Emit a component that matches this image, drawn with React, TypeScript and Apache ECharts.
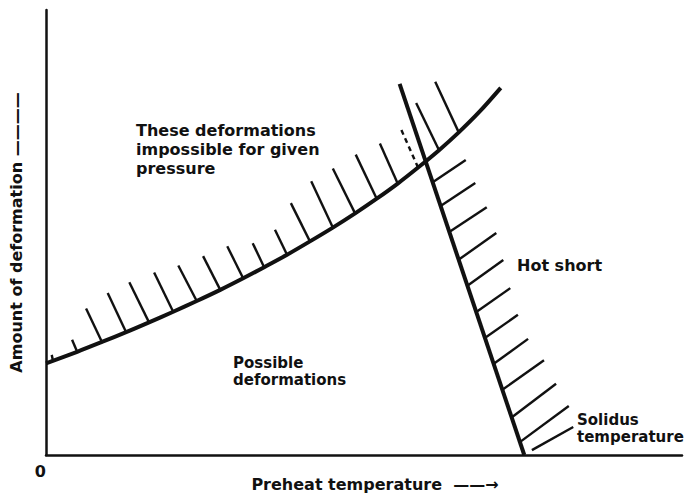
import React, { useEffect, useRef } from 'react';
import * as echarts from 'echarts';

// Upper boundary curve: deformations possible for given pressure
const curveX = [0, 4.9, 8.8, 12.6, 16.2, 20.0, 23.7, 27.4, 31.0, 34.3, 37.9, 41.5, 45.1, 48.6, 52.0, 55.3, 58.5, 61.8, 64.9, 68.2, 71.5];
const curveY = [20.6, 23.2, 25.4, 27.6, 29.8, 32.2, 34.6, 37.1, 39.7, 42.2, 45.0, 48.0, 51.1, 54.3, 57.6, 61.0, 64.6, 68.5, 72.5, 77.2, 82.5];

// Hot-short (solidus) line
const hotShortX = [55.6, 75.2];
const hotShortY = [83.4, 0];

// Hatch marks on the pressure curve: [x0, y0, x1, y1, dashed]
const curveHatches = [
  [1.1, 21.2, 0.9, 22.5, 0],
  [4.9, 23.2, 4.1, 25.9, 0],
  [8.8, 25.4, 6.3, 32.9, 0],
  [12.6, 27.6, 9.7, 36.4, 0],
  [16.2, 29.8, 13.1, 38.8, 0],
  [20.0, 32.2, 17.0, 41.0, 0],
  [23.7, 34.6, 20.8, 42.6, 0],
  [27.4, 37.1, 24.7, 44.7, 0],
  [31.0, 39.7, 28.5, 46.9, 0],
  [34.3, 42.2, 32.5, 47.6, 0],
  [37.9, 45.0, 36.0, 50.6, 0],
  [41.5, 48.0, 38.5, 56.6, 0],
  [45.1, 51.1, 41.7, 61.5, 0],
  [48.6, 54.3, 45.1, 64.4, 0],
  [52.0, 57.6, 48.7, 67.5, 0],
  [55.3, 61.0, 52.5, 70.0, 0],
  [58.5, 64.6, 55.7, 73.6, 1],
  [61.8, 68.5, 58.2, 79.1, 0],
  [64.9, 72.5, 61.2, 83.9, 0],
];

// Hatch marks on the hot-short line: [x0, y0, x1, y1, dashed]
const hotHatches = [
  [60.8, 61.3, 66.0, 66.3, 0],
  [62.1, 56.0, 67.5, 61.1, 0],
  [63.4, 50.1, 69.3, 55.7, 0],
  [64.8, 43.8, 70.8, 49.9, 0],
  [66.2, 38.0, 71.9, 43.8, 0],
  [67.6, 32.1, 73.0, 37.5, 0],
  [69.0, 26.3, 74.2, 31.5, 0],
  [70.3, 20.4, 75.8, 26.1, 0],
  [71.7, 14.6, 78.3, 21.3, 0],
  [73.1, 8.3, 80.2, 16.0, 0],
  [74.5, 2.9, 82.2, 11.0, 0],
  [76.4, 1.1, 82.9, 6.3, 0],
];

const FONT = 'DejaVu Sans';
const INK = '#111';

export default function App() {
  const ref = useRef<HTMLDivElement>(null);
  useEffect(() => {
    const chart = echarts.init(ref.current!, null, { renderer: 'svg' });
    const hatchRender = (params: any, api: any) => {
      const p0 = api.coord([api.value(0), api.value(1)]);
      const p1 = api.coord([api.value(2), api.value(3)]);
      return {
        type: 'line',
        shape: { x1: p0[0], y1: p0[1], x2: p1[0], y2: p1[1] },
        style: { stroke: INK, lineWidth: 2.4, lineDash: api.value(4) ? [5, 4] : null },
      };
    };
    chart.setOption({
      animation: false,
      backgroundColor: '#fff',
      grid: { left: 46, top: 10, right: 7, bottom: 44, containLabel: false, outerBoundsMode: 'none' },
      xAxis: {
        type: 'value', min: 0, max: 100, interval: 100,
        axisLine: { lineStyle: { color: INK, width: 2.5 } },
        axisTick: { show: false }, splitLine: { show: false },
        axisLabel: {
          formatter: (v: number) => (v === 0 ? '0' : ''),
          color: INK, fontFamily: FONT, fontWeight: 'bold', fontSize: 16, margin: 8, align: 'right',
        },
        name: 'Preheat temperature  ——→',
        nameLocation: 'middle', nameGap: 21, nameMoveOverlap: false,
        nameTextStyle: { color: INK, fontFamily: FONT, fontWeight: 'bold', fontSize: 16, padding: [0, 0, 0, 22] },
      },
      yAxis: {
        type: 'value', min: 0, max: 100, interval: 100,
        axisLine: { lineStyle: { color: INK, width: 2.5 } },
        axisTick: { show: false }, splitLine: { show: false },
        axisLabel: { show: false },
        name: 'Amount of deformation ————',
        nameLocation: 'middle', nameGap: 22, nameMoveOverlap: false,
        nameTextStyle: { color: INK, fontFamily: FONT, fontWeight: 'bold', fontSize: 16 },
      },
      graphic: [
        { type: 'text', left: 136, top: 121, style: { text: 'These deformations\nimpossible for given\npressure', fill: INK, font: `bold 16px "${FONT}"`, lineHeight: 19 } },
        { type: 'text', left: 233, top: 354, style: { text: 'Possible\ndeformations', fill: INK, font: `bold 15px "${FONT}"`, lineHeight: 17 } },
        { type: 'text', left: 517, top: 257, style: { text: 'Hot short', fill: INK, font: `bold 16px "${FONT}"` } },
        { type: 'text', left: 577, top: 411, style: { text: 'Solidus\ntemperature', fill: INK, font: `bold 15px "${FONT}"`, lineHeight: 17 } },
      ],
      series: [
        {
          type: 'line', smooth: 0.3, symbol: 'none',
          data: curveX.map((x, i) => [x, curveY[i]]),
          lineStyle: { color: INK, width: 4 },
        },
        {
          type: 'line', symbol: 'none',
          data: hotShortX.map((x, i) => [x, hotShortY[i]]),
          lineStyle: { color: INK, width: 4 },
        },
        {
          type: 'custom', renderItem: hatchRender,
          encode: { x: [0, 2], y: [1, 3] },
          data: curveHatches,
        },
        {
          type: 'custom', renderItem: hatchRender,
          encode: { x: [0, 2], y: [1, 3] },
          data: hotHatches,
        },
      ],
    });
    return () => chart.dispose();
  }, []);
  return <div ref={ref} style={{ position: 'fixed', left: 0, top: 0, width: 689, height: 499, background: '#fff' }} />;
}
